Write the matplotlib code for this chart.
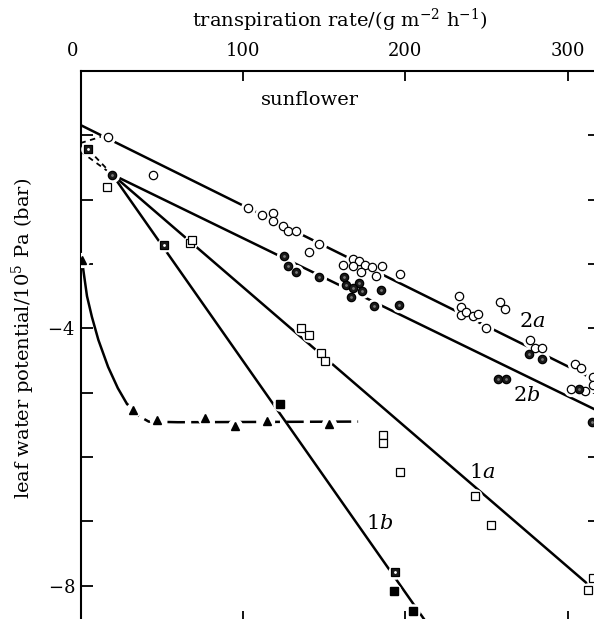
import matplotlib
matplotlib.use("Agg")
import matplotlib.pyplot as plt
from matplotlib.transforms import ScaledTranslation

plt.rcParams['font.family'] = 'DejaVu Serif'
plt.rcParams['mathtext.fontset'] = 'dejavuserif'


# data: transpiration rate (g m-2 h-1) vs leaf water potential (bar)
open_circ_x = [16.7, 44.4, 103.4, 111.5, 118.6, 118.6, 124.8, 127.9, 133.0, 147.0,
               140.8, 161.7, 167.9, 171.6, 167.9, 175.1, 173.0, 179.8, 185.7, 181.8,
               196.9, 233.1, 234.6, 234.2, 237.2, 241.7, 244.8, 258.2, 261.2, 249.5,
               276.6, 279.7, 284.4, 304.3, 308.4, 315.4, 315.4, 302.3, 310.5]
open_circ_y = [-1.02, -1.62, -2.13, -2.24, -2.21, -2.33, -2.41, -2.49, -2.49, -2.69,
               -2.81, -3.01, -2.92, -2.95, -3.03, -3.02, -3.13, -3.05, -3.03, -3.18,
               -3.16, -3.50, -3.67, -3.79, -3.75, -3.81, -3.77, -3.59, -3.70, -3.99,
               -4.18, -4.30, -4.31, -4.56, -4.62, -4.76, -4.88, -4.95, -4.97]

fill_circ_x = [19.6, 125.2, 127.9, 133.0, 147.0, 162.3, 163.8, 171.6, 167.9, 173.7,
               166.9, 184.9, 180.8, 196.2, 276.2, 284.4, 257.1, 261.8, 315.2, 306.8]
fill_circ_y = [-1.61, -2.88, -3.03, -3.13, -3.21, -3.20, -3.32, -3.29, -3.38, -3.42,
               -3.52, -3.40, -3.65, -3.64, -4.40, -4.47, -4.79, -4.79, -5.45, -4.95]

open_sq_x = [16.5, 67.4, 68.8, 136.1, 140.8, 148.4, 150.5, 186.3, 186.3, 197.0,
             242.8, 253.0, 312.5, 315.4]
open_sq_y = [-1.80, -2.68, -2.63, -4.00, -4.11, -4.39, -4.51, -5.66, -5.79, -6.23,
             -6.60, -7.06, -8.07, -7.88]

dot_sq_x = [4.8, 51.4, 193.5]
dot_sq_y = [-1.22, -2.71, -7.79]
fill_sq_x = [122.8, 193.1, 204.8]
fill_sq_y = [-5.17, -8.08, -8.40]

tri_x = [0.7, 32.5, 46.9, 76.6, 95.1, 114.8, 152.9]
tri_y = [-2.94, -5.27, -5.42, -5.39, -5.52, -5.44, -5.49]

# fitted lines as drawn
line_2a_x = [0, 320]
line_2a_y = [-0.84, -4.84]
line_2b_x = [19.6, 320]
line_2b_y = [-1.61, -5.30]
line_1a_x = [19.6, 320]
line_1a_y = [-1.61, -8.14]
line_1b_x = [19.6, 213.8]
line_1b_y = [-1.61, -8.6]
ext_x = [0, 19.6]
ext_y = [-1.25, -1.61]
ext2_x = [4.8, 19.6]
ext2_y = [-1.22, -1.61]
ext3_x = [0, 13.0]
ext3_y = [-1.12, -1.02]

curve_x = [1.5, 4, 7, 11, 17, 23, 28.5]
curve_y = [-3.05, -3.5, -3.82, -4.18, -4.6, -4.93, -5.17]
curve_tail_x = [28.5, 35, 42, 60, 171]
curve_tail_y = [-5.17, -5.35, -5.45, -5.46, -5.45]

xticks = [0, 100, 200, 300]
yticks = [-8, -7, -6, -5, -4, -3, -2, -1]
ytick_labels = ['$-8$', '', '', '', '$-4$', '', '', '']


W, H = 594, 619
fig = plt.figure(figsize=(W / 100, H / 100), dpi=100)
ax = fig.add_axes([80.5 / W, 1 - 621 / H, (600 - 80.5) / W, (621 - 71) / H])
ax.set_xlim(0, 320)
ax.set_ylim(-8.55, 0)

LW = 1.8
ax.plot(line_2a_x, line_2a_y, 'k-', lw=LW, zorder=2)
ax.plot(line_2b_x, line_2b_y, 'k-', lw=LW, zorder=2)
ax.plot(line_1a_x, line_1a_y, 'k-', lw=LW, zorder=2)
ax.plot(line_1b_x, line_1b_y, 'k-', lw=LW, zorder=2)
for xx, yy in [(ext_x, ext_y), (ext2_x, ext2_y), (ext3_x, ext3_y)]:
    ax.plot(xx, yy, 'k-', lw=1.3, dashes=(3, 2.5), zorder=2)
ax.plot(curve_x, curve_y, 'k-', lw=LW, zorder=2)
ax.plot(curve_tail_x, curve_tail_y, 'k-', lw=LW, dashes=(7, 2.5), zorder=2)

# white halos break the lines around the points, like the original drawing
for xx, yy, ms in [(open_circ_x, open_circ_y, 6), (fill_circ_x, fill_circ_y, 6),
                   (open_sq_x, open_sq_y, 5.5), (dot_sq_x, dot_sq_y, 5.5),
                   (fill_sq_x, fill_sq_y, 5.5), (tri_x, tri_y, 6)]:
    ax.plot(xx, yy, 'o', ms=ms + 5, color='white', mec='none', zorder=3)

ax.plot(open_circ_x, open_circ_y, 'o', ms=6, mfc='white', mec='black', mew=0.9, zorder=4)
ax.plot(fill_circ_x, fill_circ_y, 'o', ms=6, mfc='#1a1a1a', mec='black', mew=0.9, zorder=4)
ax.plot(fill_circ_x, fill_circ_y, '.', ms=2, color='#777777', zorder=5)
ax.plot(open_sq_x, open_sq_y, 's', ms=5.5, mfc='white', mec='black', mew=0.9, zorder=4)
ax.plot(dot_sq_x, dot_sq_y, 's', ms=5.5, mfc='#1a1a1a', mec='black', mew=0.9, zorder=4)
ax.plot(dot_sq_x, dot_sq_y, '.', ms=2, color='white', zorder=5)
ax.plot(fill_sq_x, fill_sq_y, 's', ms=5.5, mfc='black', mec='black', zorder=4)
ax.plot(tri_x, tri_y, '^', ms=6, mfc='black', mec='black', zorder=4)

ax.text(141.2, -0.45, 'sunflower', ha='center', va='center', fontsize=14)
ax.text(278.2, -3.90, r'2$\mathit{a}$', ha='center', va='center', fontsize=15)
ax.text(274.8, -5.05, r'2$\mathit{b}$', ha='center', va='center', fontsize=15)
ax.text(247.7, -6.24, r'1$\mathit{a}$', ha='center', va='center', fontsize=15)
ax.text(184.3, -7.03, r'1$\mathit{b}$', ha='center', va='center', fontsize=15)

for s in ax.spines.values():
    s.set_linewidth(1.5)

ax.set_xticks(xticks)
ax.set_yticks(yticks)
ax.set_yticklabels(ytick_labels)
ax.tick_params(axis='x', top=True, bottom=True, labeltop=True, labelbottom=False,
               direction='in', length=7, width=1.3, pad=8, labelsize=13)
ax.tick_params(axis='y', left=True, right=True, labelleft=True, labelright=False,
               direction='in', length=8.6, width=1.3, pad=4, labelsize=13)

lbl0 = ax.xaxis.get_major_ticks()[0].label2
lbl0.set_transform(lbl0.get_transform() + ScaledTranslation(-0.08, 0, fig.dpi_scale_trans))

fig.text(340 / W, 1 - 20 / H, r'transpiration rate/(g m$^{-2}$ h$^{-1}$)',
         ha='center', va='center', fontsize=14)
fig.text(23 / W, 1 - 338 / H, r'leaf water potential/10$^{5}$ Pa (bar)',
         ha='center', va='center', rotation=90, fontsize=14)

fig.savefig('out.png', dpi=100)
